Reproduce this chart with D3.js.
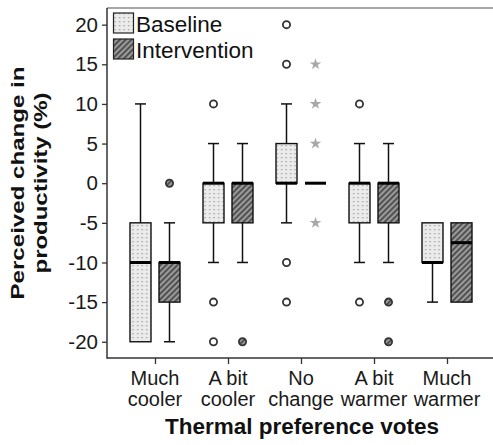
<!DOCTYPE html>
<html>
<head>
<meta charset="utf-8">
<script src="https://cdn.jsdelivr.net/npm/d3@7"></script>
<style>
  html, body { margin: 0; padding: 0; background: #fff; }
  svg { display: block; font-family: Arial, "Liberation Sans", sans-serif; }
</style>
</head>
<body>
<svg id="chart" width="493" height="445"></svg>
<script>
// Thermal preference vote categories (two-line tick labels)
const categories = ["Much cooler", "A bit cooler", "No change", "A bit warmer", "Much warmer"];
const categoryLines = [["Much", "cooler"], ["A bit", "cooler"], ["No", "change"], ["A bit", "warmer"], ["Much", "warmer"]];
const groups = ["Baseline", "Intervention"];

// Box statistics per category: [lower whisker, Q1, median, Q3, upper whisker]
const baselineStats = [
  [-20, -20, -10, -5, 10],
  [-10, -5, 0, 0, 5],
  [-5, 0, 0, 5, 10],
  [-10, -5, 0, 0, 5],
  [-15, -10, -10, -5, -5]
];
const interventionStats = [
  [-20, -15, -10, -10, -5],
  [-10, -5, 0, 0, 5],
  [0, 0, 0, 0, 0],
  [-10, -5, 0, 0, 5],
  [-15, -15, -7.5, -5, -5]
];

// Outliers (circles) and extreme values (stars)
const baselineOutliers = [[], [10, -15, -20], [20, 15, -10, -15], [10, -15], []];
const interventionOutliers = [[0], [-20], [], [-15, -20], []];
const baselineExtremes = [[], [], [], [], []];
const interventionExtremes = [[], [], [15, 10, 5, -5], [], []];

const yTicks = [20, 15, 10, 5, 0, -5, -10, -15, -20];

const svg = d3.select("#chart");
const plotLeft = 107, plotTop = 8, plotRight = 493, plotBottom = 358;

const x = d3.scalePoint().domain(categories).range([155, 447]);
const offset = d3.scaleOrdinal().domain(groups).range([-14.5, 14.5]);
const y = d3.scaleLinear().domain([-22.05, 22.1]).range([plotBottom, plotTop]);
const boxW = 21, capW = 11;

// Fill patterns
const defs = svg.append("defs");
const dots = defs.append("pattern").attr("id", "dots")
  .attr("patternUnits", "userSpaceOnUse").attr("width", 4.5).attr("height", 4);
dots.append("rect").attr("width", 4.5).attr("height", 4).attr("fill", "#ebebeb");
dots.append("rect").attr("x", 2).attr("y", 1).attr("width", 1.3).attr("height", 1.3).attr("fill", "#9c9c9c");

const hatch = defs.append("pattern").attr("id", "hatch")
  .attr("patternUnits", "userSpaceOnUse").attr("width", 4).attr("height", 4)
  .attr("patternTransform", "rotate(-45)");
hatch.append("rect").attr("width", 4).attr("height", 4).attr("fill", "#9a9a9a");
hatch.append("rect").attr("width", 4).attr("height", 1.8).attr("fill", "#4a4a4a");

const fills = { Baseline: "url(#dots)", Intervention: "url(#hatch)" };

// Frame
svg.append("line").attr("x1", plotLeft).attr("x2", plotRight).attr("y1", plotTop).attr("y2", plotTop)
  .attr("stroke", "#8a8a8a").attr("stroke-width", 1.5);

// Y axis
const yAxis = d3.axisLeft(y).tickValues(yTicks).tickSize(5).tickPadding(4).tickFormat(d => String(d));
const gy = svg.append("g").attr("transform", `translate(${plotLeft},0)`).call(yAxis);
gy.select(".domain").remove();
gy.selectAll(".tick line").attr("stroke", "#333").attr("stroke-width", 1.3);
gy.selectAll(".tick text").attr("font-size", 20.5).attr("fill", "#1a1a1a")
  .attr("font-family", "Arial, 'Liberation Sans', sans-serif");
svg.append("line").attr("x1", plotLeft).attr("x2", plotLeft).attr("y1", plotTop).attr("y2", plotBottom + 0.75)
  .attr("stroke", "#333").attr("stroke-width", 1.5);

// X axis
const xAxis = d3.axisBottom(x).tickSize(6).tickFormat("");
const gx = svg.append("g").attr("transform", `translate(0,${plotBottom})`).call(xAxis);
gx.select(".domain").remove();
gx.selectAll(".tick line").attr("stroke", "#333").attr("stroke-width", 1.3);
svg.append("line").attr("x1", plotLeft).attr("x2", plotRight).attr("y1", plotBottom).attr("y2", plotBottom)
  .attr("stroke", "#333").attr("stroke-width", 1.5);

const xl = svg.append("g").attr("font-size", 20).attr("fill", "#1a1a1a").attr("text-anchor", "middle");
categories.forEach((c, i) => {
  categoryLines[i].forEach((line, j) => {
    xl.append("text").attr("x", x(c)).attr("y", 385 + j * 21).text(line);
  });
});

// Axis titles
svg.append("text").attr("x", 302).attr("y", 434).attr("text-anchor", "middle")
  .attr("font-size", 22.5).attr("font-weight", "bold").attr("fill", "#111")
  .text("Thermal preference votes");
const yt = svg.append("g").attr("transform", `translate(0,${(plotTop + plotBottom) / 2}) rotate(-90)`)
  .attr("text-anchor", "middle").attr("font-size", 18.5).attr("font-weight", "bold").attr("fill", "#111");
yt.append("text").attr("x", 0).attr("y", 23.5)
  .attr("textLength", 233).attr("lengthAdjust", "spacingAndGlyphs").text("Perceived change in");
yt.append("text").attr("x", 0).attr("y", 46.5)
  .attr("textLength", 181).attr("lengthAdjust", "spacingAndGlyphs").text("productivity (%)");

// Box plots
const series = [
  { name: "Baseline", stats: baselineStats, outliers: baselineOutliers, extremes: baselineExtremes },
  { name: "Intervention", stats: interventionStats, outliers: interventionOutliers, extremes: interventionExtremes }
];

const plot = svg.append("g");
series.forEach(s => {
  categories.forEach((c, i) => {
    const [lo, q1, med, q3, hi] = s.stats[i];
    const cx = x(c) + offset(s.name);
    const g = plot.append("g");
    // whiskers
    if (hi > q3) {
      g.append("line").attr("x1", cx).attr("x2", cx).attr("y1", y(q3)).attr("y2", y(hi))
        .attr("stroke", "#111").attr("stroke-width", 1.5);
      g.append("line").attr("x1", cx - capW / 2).attr("x2", cx + capW / 2).attr("y1", y(hi)).attr("y2", y(hi))
        .attr("stroke", "#111").attr("stroke-width", 1.5);
    }
    if (lo < q1) {
      g.append("line").attr("x1", cx).attr("x2", cx).attr("y1", y(q1)).attr("y2", y(lo))
        .attr("stroke", "#111").attr("stroke-width", 1.5);
      g.append("line").attr("x1", cx - capW / 2).attr("x2", cx + capW / 2).attr("y1", y(lo)).attr("y2", y(lo))
        .attr("stroke", "#111").attr("stroke-width", 1.5);
    }
    // box
    if (q3 > q1) {
      g.append("rect").attr("x", cx - boxW / 2).attr("y", y(q3)).attr("width", boxW)
        .attr("height", y(q1) - y(q3)).attr("fill", fills[s.name])
        .attr("stroke", "#111").attr("stroke-width", 1.4);
    }
    // median
    g.append("line").attr("x1", cx - boxW / 2).attr("x2", cx + boxW / 2).attr("y1", y(med)).attr("y2", y(med))
      .attr("stroke", "#000").attr("stroke-width", 3);
    // outliers
    s.outliers[i].forEach(v => {
      g.append("circle").attr("cx", cx).attr("cy", y(v)).attr("r", 3.6)
        .attr("fill", s.name === "Baseline" ? "#fff" : "url(#hatch)")
        .attr("stroke", "#333").attr("stroke-width", 1.8);
    });
    // extremes
    s.extremes[i].forEach(v => {
      g.append("path").attr("d", d3.symbol(d3.symbolStar, 42)())
        .attr("transform", `translate(${cx},${y(v)})`).attr("fill", "#a8a8a8");
    });
  });
});

// Legend
const legend = svg.append("g");
groups.forEach((gname, i) => {
  const ly = 13 + i * 26;
  legend.append("rect").attr("x", 113.5).attr("y", ly).attr("width", 20).attr("height", 20)
    .attr("fill", fills[gname]).attr("stroke", "#222").attr("stroke-width", 1.2);
  legend.append("text").attr("x", 136).attr("y", ly + 18.5).attr("font-size", 22.5).attr("fill", "#111").text(gname);
});
</script>
</body>
</html>
